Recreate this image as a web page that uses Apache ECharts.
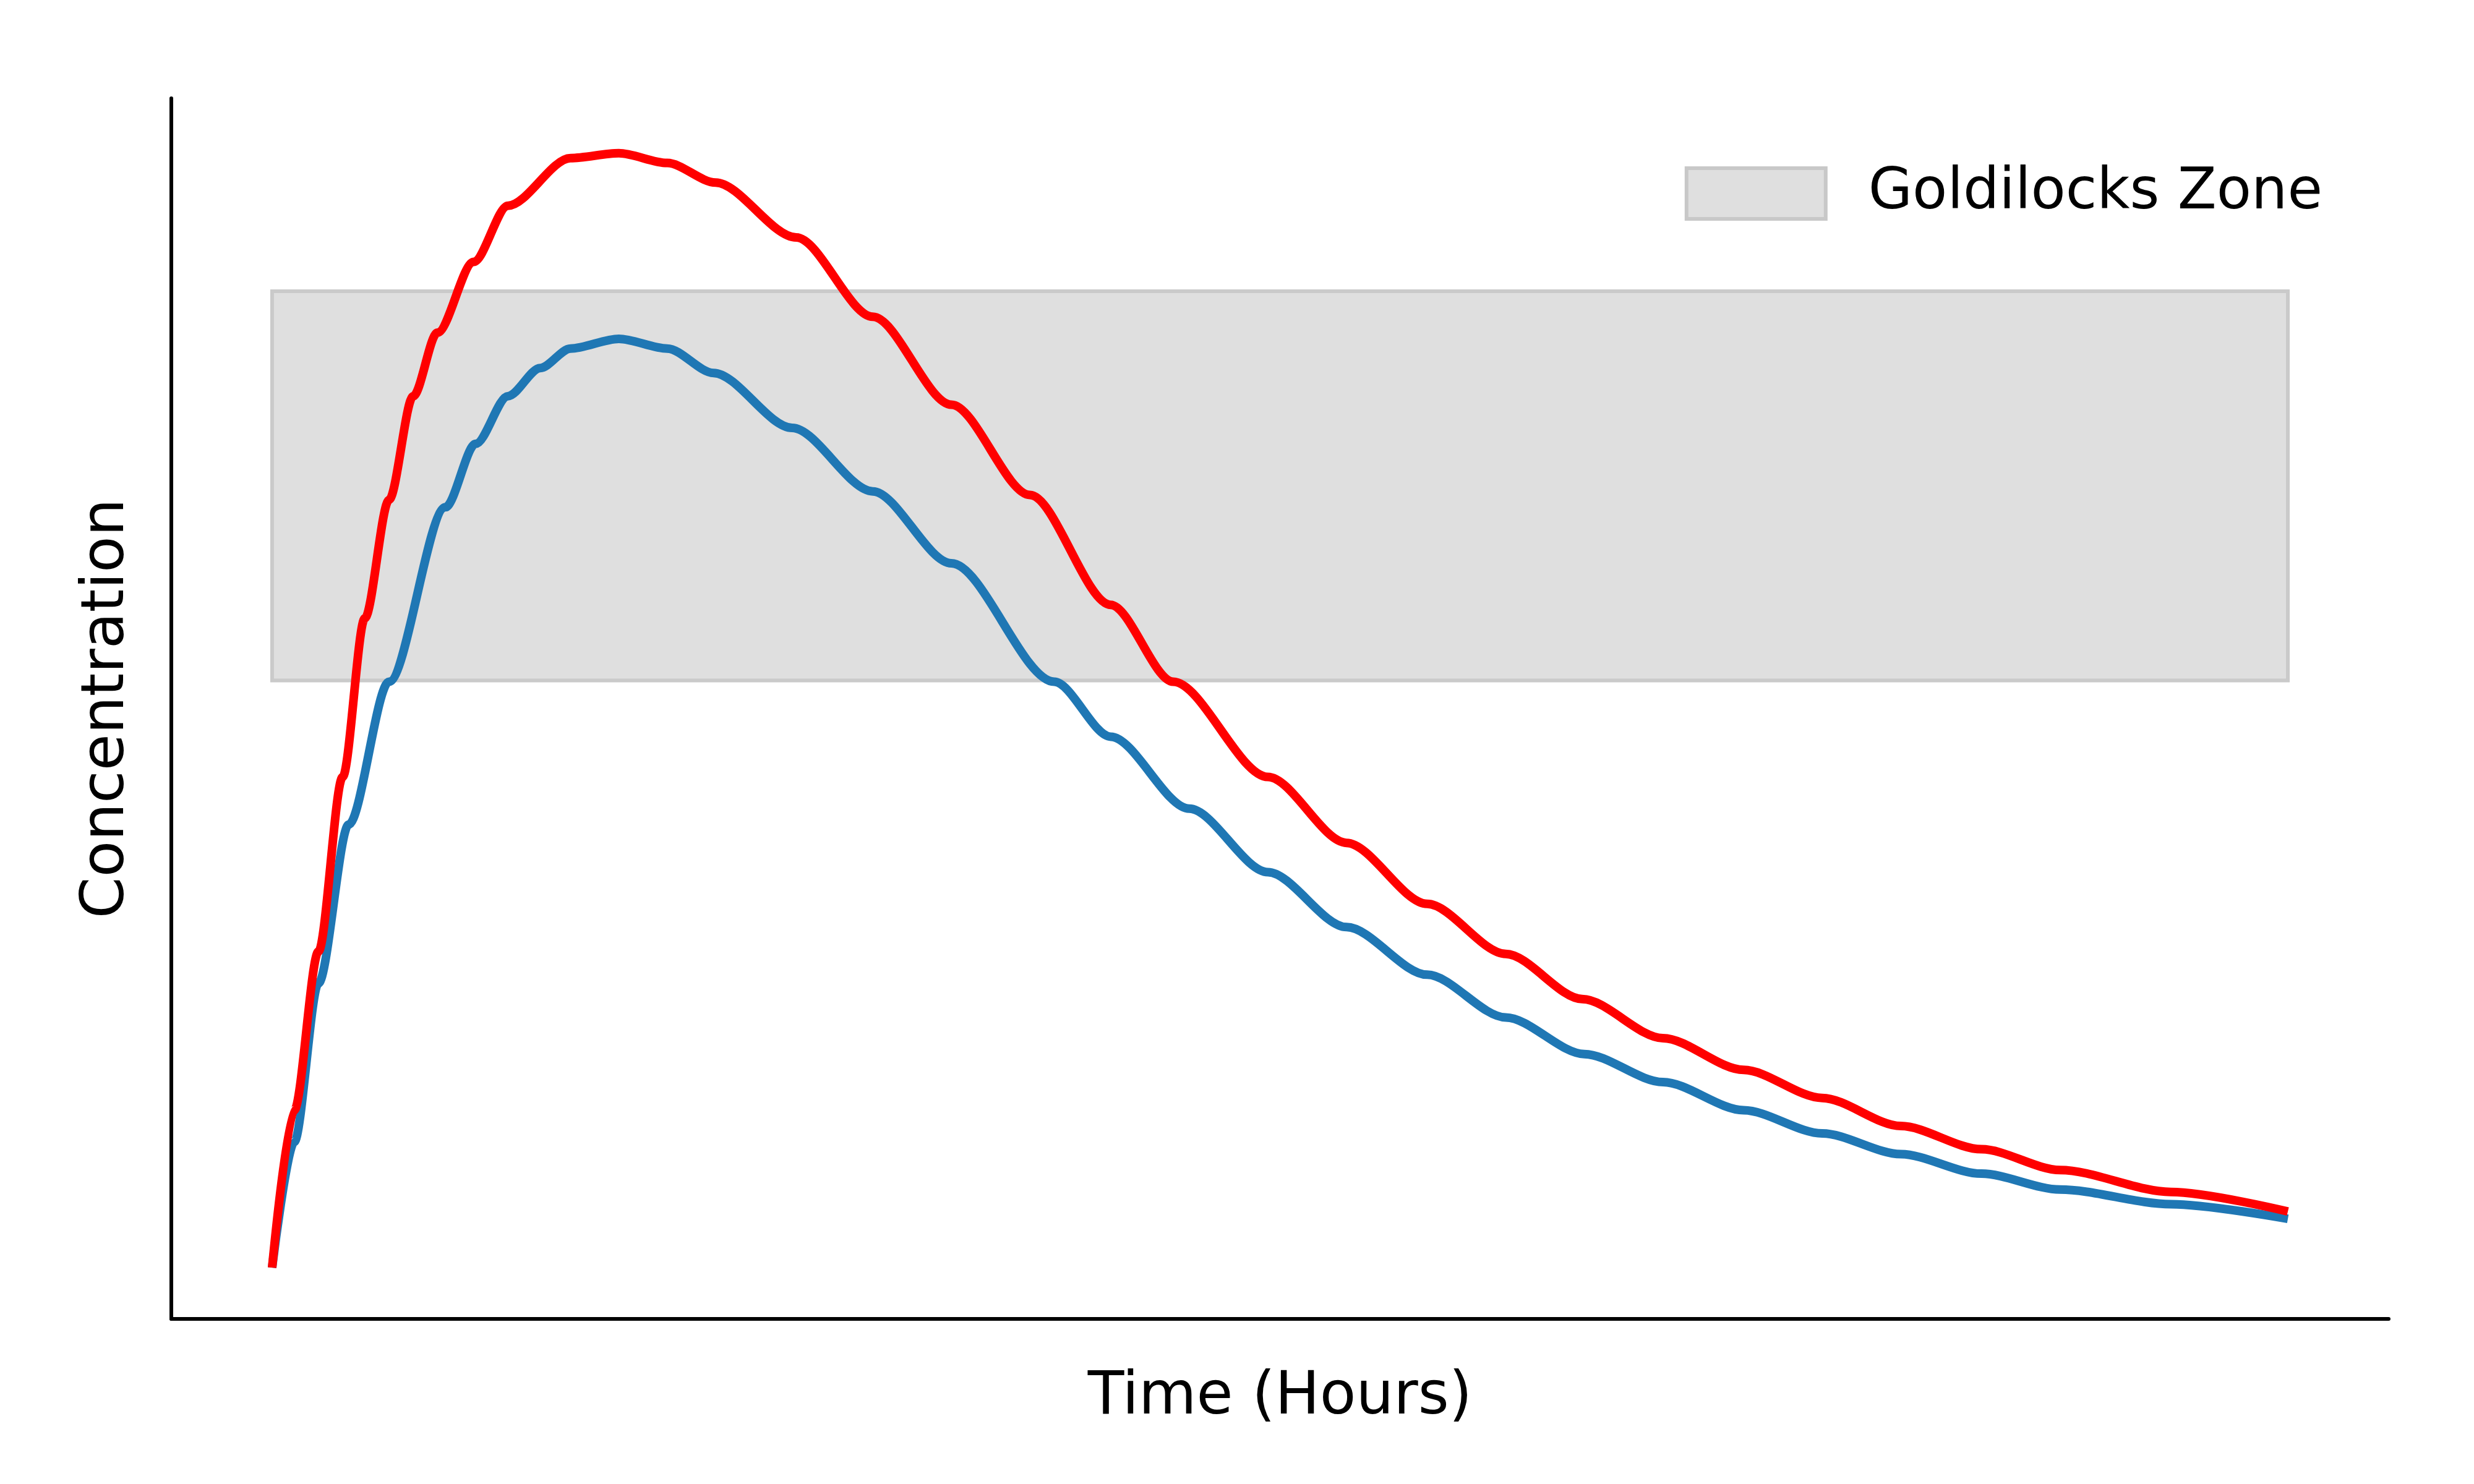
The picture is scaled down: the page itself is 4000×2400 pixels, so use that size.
<!DOCTYPE html>
<html style="height: 100%">
<head>
    <meta charset="utf-8">
    <script src="https://cdn.jsdelivr.net/npm/echarts@6/dist/echarts.min.js"></script>
</head>
<body style="margin:0;height:100%">
<div id="container" style="width:4000px;height:2400px"></div>
<script type="text/javascript">
    // time (hours) and concentration
    var redTime = [0, 0.11, 0.23, 0.35, 0.46, 0.58, 0.7, 0.82, 1.0, 1.17, 1.48, 1.72, 1.96, 2.2, 2.6, 2.98, 3.37, 3.76, 4.16, 4.47, 4.94, 5.33, 5.73, 6.12, 6.5, 6.9, 7.3, 7.69, 8.08, 8.48, 8.87, 9.42, 10];
    var redConc = [0.042, 0.171, 0.301, 0.444, 0.574, 0.671, 0.756, 0.808, 0.866, 0.912, 0.951, 0.955, 0.947, 0.931, 0.886, 0.821, 0.749, 0.675, 0.585, 0.522, 0.444, 0.390, 0.340, 0.299, 0.262, 0.230, 0.204, 0.181, 0.158, 0.139, 0.122, 0.104, 0.088];
    var blueTime = [0, 0.11, 0.23, 0.38, 0.58, 0.86, 1.01, 1.17, 1.33, 1.48, 1.72, 1.96, 2.19, 2.58, 2.98, 3.37, 3.88, 4.16, 4.55, 4.94, 5.33, 5.73, 6.12, 6.51, 6.9, 7.3, 7.69, 8.08, 8.48, 8.87, 9.42, 10];
    var blueConc = [0.042, 0.145, 0.275, 0.405, 0.522, 0.665, 0.717, 0.756, 0.779, 0.795, 0.803, 0.795, 0.775, 0.730, 0.678, 0.619, 0.522, 0.477, 0.418, 0.366, 0.321, 0.282, 0.247, 0.217, 0.194, 0.171, 0.152, 0.135, 0.119, 0.106, 0.094, 0.082];
    var zoneTime = [0, 10];
    var zoneConc = [0.523, 0.842];

    function pairs(xs, ys) {
        return xs.map(function (x, i) { return [x, ys[i]]; });
    }

    var myChart = echarts.init(document.getElementById('container'));
    var font = 'DejaVu Sans';

    var option = {
        animation: false,
        backgroundColor: '#fff',
        grid: { left: 277, right: 138, top: 159, bottom: 267 },
        legend: {
            data: ['Goldilocks Zone'],
            right: 240, top: 262,
            itemWidth: 225, itemHeight: 82,
            icon: 'rect',
            itemStyle: { color: '#dfdfdf', borderColor: '#c8c8c8', borderWidth: 6 },
            textStyle: { fontFamily: font, fontSize: 92, color: '#000', padding: [0, 0, 0, 64] }
        },
        xAxis: {
            type: 'value', min: -0.5, max: 10.5,
            name: 'Time (Hours)', nameLocation: 'middle', nameGap: 80,
            nameTextStyle: { fontFamily: font, fontSize: 96, color: '#000' },
            axisLine: { onZero: false, lineStyle: { color: '#000', width: 6 } },
            axisTick: { show: false }, axisLabel: { show: false }, splitLine: { show: false }
        },
        yAxis: {
            type: 'value', min: 0, max: 1,
            name: 'Concentration', nameLocation: 'middle', nameGap: 55,
            nameTextStyle: { fontFamily: font, fontSize: 96, color: '#000' },
            axisLine: { show: true, onZero: false, lineStyle: { color: '#000', width: 6 } },
            axisTick: { show: false }, axisLabel: { show: false }, splitLine: { show: false }
        },
        series: [
            {
                name: 'Goldilocks Zone',
                type: 'line',
                data: [],
                itemStyle: { color: '#dfdfdf', borderColor: '#c8c8c8', borderWidth: 6 },
                markArea: {
                    silent: true,
                    itemStyle: { color: '#dfdfdf', borderColor: '#cacaca', borderWidth: 6 },
                    data: [[{ coord: [zoneTime[0], zoneConc[0]] }, { coord: [zoneTime[1], zoneConc[1]] }]]
                }
            },
            {
                name: 'blue', type: 'line', smooth: 0.3, smoothMonotone: 'x', showSymbol: false,
                data: pairs(blueTime, blueConc),
                lineStyle: { color: '#1f77b4', width: 14 }, z: 3
            },
            {
                name: 'red', type: 'line', smooth: 0.3, smoothMonotone: 'x', showSymbol: false,
                data: pairs(redTime, redConc),
                lineStyle: { color: '#ff0000', width: 14 }, z: 4
            }
        ]
    };
    myChart.setOption(option);
</script>
</body>
</html>
